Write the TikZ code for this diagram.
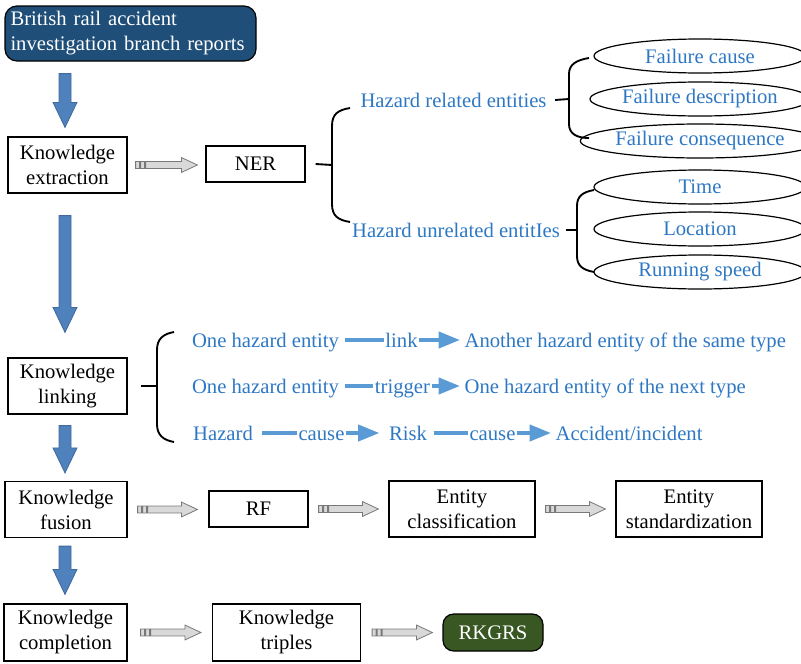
\documentclass[tikz,border=0pt]{standalone}
\usepackage{fontspec}
\setmainfont{Liberation Serif}
\usetikzlibrary{calc,arrows.meta,shapes.geometric}
\definecolor{topblue}{RGB}{31,78,121}
\definecolor{rkgreen}{RGB}{56,87,35}
\definecolor{txtblue}{RGB}{46,120,195}
\definecolor{lnblue}{RGB}{91,155,213}
\definecolor{arrfill}{RGB}{79,129,189}
\definecolor{arrdraw}{RGB}{65,105,155}
\definecolor{gfill}{RGB}{217,217,217}
\definecolor{gdraw}{RGB}{120,120,120}
\tikzset{
  x=0.75pt, y=-0.75pt,
  every node/.style={font=\fontsize{15.5}{18.75}\selectfont},
  box/.style={draw=black, line width=0.9pt, align=center, inner sep=0pt},
  bluetxt/.style={text=txtblue, inner xsep=1pt, inner ysep=0pt, text height=14.5pt, text depth=3.5pt},
  ell/.style={draw=black, line width=0.9pt, ellipse, inner sep=0pt, text=txtblue,
    minimum width=159pt, minimum height=25.5pt},
  brace/.style={draw=black, line width=1.4pt},
  barrowstyle/.style={fill=arrfill, draw=arrdraw, line width=0.6pt},
  garrowstyle/.style={fill=gfill, draw=gdraw, line width=0.6pt},
  linkline/.style={draw=lnblue, line width=3pt},
  linkarrow/.style={draw=lnblue, line width=3pt, -{Triangle[length=16pt,width=12pt]}},
}
% blue block arrow: #1 source node, #2 target node, #3 top gap px, #4 bottom gap px
\newcommand\barrow[4]{%
  \path[barrowstyle] let \p1=($(colx |- #1.south)+(0,#3)$), \p2=($(colx |- #2.north)-(0,#4)$) in
    (\x1-4.5pt,\y1) -- (\x1+4.5pt,\y1) -- (\x1+4.5pt,\y2+18.75pt) -- (\x1+9pt,\y2+18.75pt)
    -- (\x1,\y2) -- (\x1-9pt,\y2+18.75pt) -- (\x1-4.5pt,\y2+18.75pt) -- cycle;}
% gray arrow: #1 source, #2 target, #3 start gap px, #4 end gap px
\newcommand\garrow[4]{%
  \path[garrowstyle] let \p1=($(#1.east)+(#3,0)$), \p2=($(#2.west)-(#4,0)$) in
    (\x1,\y1-2.6pt) rectangle (\x1+3pt,\y1+2.6pt)
    (\x1+3.75pt,\y1-2.6pt) rectangle (\x1+6.75pt,\y1+2.6pt)
    (\x1+7.5pt,\y1-2.6pt) -- (\x2-12pt,\y1-2.6pt) -- (\x2-12pt,\y1-5.6pt) -- (\x2,\y1)
    -- (\x2-12pt,\y1+5.6pt) -- (\x2-12pt,\y1+2.6pt) -- (\x1+7.5pt,\y1+2.6pt) -- cycle;}
\begin{document}
\begin{tikzpicture}
\useasboundingbox (0,0) rectangle (801,664);
\coordinate (colx) at (65,0);
% top box
\node[draw=black, fill=topblue, rounded corners=9pt, line width=0.9pt, text=white,
  align=left, text width=180pt, inner xsep=4.125pt, minimum height=41.25pt]
  (top) at (130.5,33.5) {British rail accident\\investigation branch reports};
% left column
\node[box, minimum width=89.25pt, minimum height=42pt] (ke) at (67.5,165) {Knowledge\\extraction};
\node[box, minimum width=89.25pt, minimum height=42pt] (kl) at (67.5,386) {Knowledge\\linking};
\node[box, minimum width=91.5pt, minimum height=42pt] (kf) at (66,509.5) {Knowledge\\fusion};
\node[box, minimum width=92.25pt, minimum height=42.75pt] (kc) at (65.5,632.5) {Knowledge\\completion};
\barrow{top}{ke}{12}{9}
\barrow{ke}{kl}{22}{25}
\barrow{kl}{kf}{11}{8}
\barrow{kf}{kc}{8}{9}
% NER
\node[box, minimum width=74.25pt, minimum height=27pt] (ner) at (255.5,164) {NER};
\garrow{ke}{ner}{8}{8}
\node[bluetxt] (hre) at (453.5,100) {Hazard related entities};
\node[bluetxt] (hue) at (456,230) {Hazard unrelated entitIes};
\coordinate (b1) at (332,165);
\draw[brace] ($(ner.east)+(10,0)$) -- (b1);
\draw[brace] (350,108) .. controls (338,110) and (332,114) .. (332,126) -- (332,204)
  .. controls (332,216) and (338,220) .. (350,222);
% ellipses
\node[ell] (fc) at (700,56) {Failure cause};
\node[ell] (fd) at (700,99) {Failure description};
\node[ell] (fq) at (700,141) {Failure consequence};
\node[ell] (ti) at (700,187) {Time};
\node[ell] (lo) at (700,229) {Location};
\node[ell] (rs) at (700,272) {Running speed};
\draw[brace] ($(hre.east)+(7,0)$) -- (569,99);
\draw[brace] (589,58) .. controls (577,60) and (569,64) .. (569,74) -- (569,124)
  .. controls (569,134) and (577,138) .. (589,138);
\draw[brace] ($(hue.east)+(5,0)$) -- (577,230);
\draw[brace] (594,190) .. controls (583,192) and (577,196) .. (577,206) -- (577,256)
  .. controls (577,266) and (583,270) .. (594,272);
% linking
\draw[brace] ($(kl.east)+(13,0)$) -- (157,386);
\draw[brace] (174,332) .. controls (163,334) and (157,339) .. (157,350) -- (157,424)
  .. controls (157,435) and (163,440) .. (174,442);
\node[bluetxt] (oh1) at (265.5,340) {One hazard entity};
\node[bluetxt] (lk) at (401.5,340) {link};
\node[bluetxt, anchor=west] (an) at (463,340) {Another hazard entity of the same type};
\draw[linkline] ($(oh1.east)+(4,0)$) -- (lk.west);
\draw[linkarrow] (lk.east) -- ($(an.west)+(-3,0)$);
\node[bluetxt] (oh2) at (265.5,386) {One hazard entity};
\node[bluetxt] (tg) at (402.5,386) {trigger};
\node[bluetxt, anchor=west] (nt) at (463,386) {One hazard entity of the next type};
\draw[linkline] ($(oh2.east)+(4,0)$) -- (tg.west);
\draw[linkarrow] (tg.east) -- ($(nt.west)+(-3,0)$);
\node[bluetxt] (hz) at (223,433) {Hazard};
\node[bluetxt] (c1) at (321.5,433) {cause};
\node[bluetxt] (rk) at (408,433) {Risk};
\node[bluetxt] (c2) at (492.5,433) {cause};
\node[bluetxt, anchor=west] (ac) at (554,433) {Accident/incident};
\draw[linkline] ($(hz.east)+(8,0)$) -- (c1.west);
\draw[linkarrow] (c1.east) -- ($(rk.west)+(-8,0)$);
\draw[linkline] ($(rk.east)+(5,0)$) -- (c2.west);
\draw[linkarrow] (c2.east) -- ($(ac.west)+(-3,0)$);
% fusion row
\node[box, minimum width=74.25pt, minimum height=27pt] (rf) at (258.5,509) {RF};
\node[box, minimum width=109.5pt, minimum height=42pt] (ec) at (462,509) {Entity\\classification};
\node[box, minimum width=109.5pt, minimum height=42pt] (es) at (689,509) {Entity\\standardization};
\garrow{kf}{rf}{10}{11}
\garrow{rf}{ec}{10}{10}
\garrow{ec}{es}{10}{10}
% completion row
\node[box, minimum width=111pt, minimum height=42.75pt] (kt) at (286.5,632.5) {Knowledge\\triples};
\node[draw=black, fill=rkgreen, rounded corners=8pt, line width=0.9pt, text=white,
  minimum width=75pt, minimum height=27.75pt, inner sep=0pt] (rg) at (493,632.5) {RKGRS};
\garrow{kc}{kt}{13}{11}
\garrow{kt}{rg}{11}{10}
\end{tikzpicture}
\end{document}
